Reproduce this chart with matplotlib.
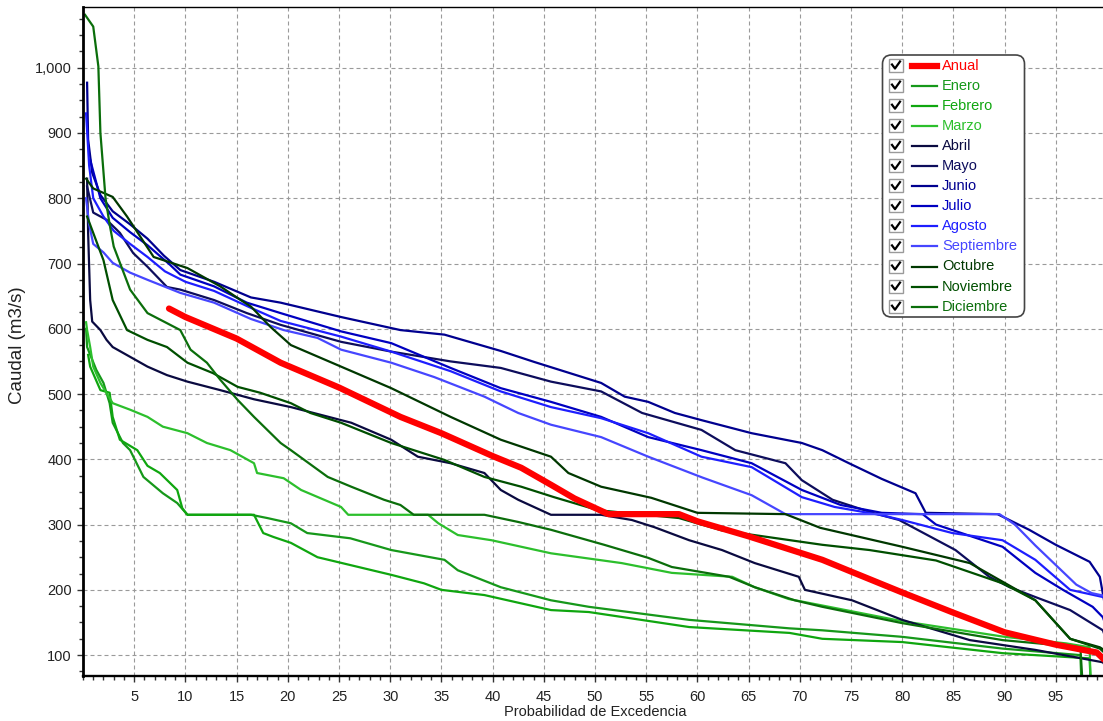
import matplotlib.pyplot as plt
from matplotlib.ticker import MultipleLocator, FuncFormatter
from matplotlib.patches import FancyBboxPatch, Rectangle
from matplotlib.lines import Line2D
from matplotlib.transforms import Affine2D

plt.rcParams['font.family'] = ['Liberation Sans', 'DejaVu Sans']

# data (x = exceedance %, y = m3/s)

anual_x = [8.4, 10, 15, 19.3, 25, 31, 35, 40, 42.8, 45.7, 48, 51.3, 58.2, 60, 65, 72.2, 75, 80, 85, 90, 95, 99, 99.6, 100]
anual_y = [631, 618, 585, 548, 510, 465, 440, 405, 387, 361, 340, 316, 316, 305, 282, 246, 228, 196, 165, 135, 116, 104, 95, 88]

enero_x = [0.3, 0.4, 1.3, 2.0, 2.6, 2.9, 3.9, 4.6, 5.9, 7.8, 9.2, 10.2, 16.4, 18.0, 20.3, 21.9, 26.1, 30.1, 35.3,
           36.6, 40.8, 45.7, 49.4, 59.2, 69.0, 72.2, 80.0, 89.8, 97.4, 97.5]
enero_y = [600, 572, 537, 517, 486, 456, 425, 414, 373, 348, 333, 315, 315, 310, 302, 287, 279, 261, 246,
           230, 204, 184, 174, 154, 141, 138, 128, 110, 100, 60]

febrero_x = [0.5, 0.7, 1.7, 2.6, 2.9, 3.6, 5.3, 6.3, 7.5, 9.2, 9.7, 10.2, 16.7, 17.6, 18.6, 20.3, 22.9, 26.1,
             30.1, 33.3, 35.0, 39.2, 45.7, 49.4, 59.2, 69.0, 72.2, 80.0, 89.8, 98.3, 98.4]
febrero_y = [560, 542, 506, 502, 465, 430, 414, 390, 379, 353, 325, 315, 315, 287, 281, 272, 250, 238,
             223, 210, 200, 192, 169, 166, 143, 134, 125, 120, 103, 95, 60]

marzo_x = [0.3, 0.4, 0.7, 1.0, 1.7, 2.9, 4.6, 6.3, 7.8, 10.2, 12.1, 14.4, 16.7, 17.0, 19.6, 21.3, 25.2, 25.9,
           33.7, 34.7, 36.6, 39.9, 45.7, 52.6, 57.5, 63.4, 65.6, 68.9, 72.2, 80.0, 90.0, 96.0, 98.3, 98.4]
marzo_y = [610, 598, 572, 542, 517, 486, 476, 465, 450, 440, 425, 414, 394, 379, 371, 353, 327, 315,
           315, 302, 284, 276, 256, 241, 226, 220, 204, 186, 176, 152, 128, 118, 112, 60]

abril_x = [0.4, 0.5, 0.7, 0.9, 1.7, 2.3, 2.9, 4.6, 6.3, 8.2, 10.2, 13.4, 16.7, 20.3, 26.2, 30.1, 32.7, 35.9,
           39.2, 40.8, 42.5, 45.7, 50.6, 53.6, 55.8, 59.2, 62.4, 65.6, 69.9, 70.5, 75.1, 80.0, 86.6, 93.0, 99.6, 100]
abril_y = [830, 747, 644, 611, 598, 583, 572, 557, 542, 529, 519, 506, 492, 480, 456, 430, 404, 394,
           379, 353, 338, 315, 315, 307, 296, 276, 261, 241, 220, 200, 184, 154, 123, 108, 89, 80]

mayo_x = [0.4, 1.0, 2.3, 3.6, 4.9, 6.3, 8.2, 9.5, 12.8, 16.0, 19.3, 25.2, 30.1, 35.9, 40.8, 45.7, 50.6, 54.6,
          60.4, 63.7, 68.6, 70.2, 73.2, 77.1, 79.7, 85.2, 88.5, 90.5, 93.0, 96.4, 99.6, 100]
mayo_y = [818, 778, 767, 747, 716, 695, 664, 660, 644, 624, 606, 580, 565, 550, 540, 519, 504, 471,
          445, 414, 394, 368, 338, 318, 307, 261, 220, 204, 189, 169, 138, 120]

junio_x = [0.4, 0.5, 0.9, 1.7, 2.9, 4.6, 6.3, 7.9, 9.5, 12.8, 16.4, 19.3, 25.2, 31.0, 35.3, 40.8, 44.1, 50.6,
           52.9, 55.2, 57.8, 60.4, 65.3, 70.2, 72.2, 74.8, 78.0, 81.3, 82.3, 89.3, 92.4, 95.0, 98.3, 99.3, 99.7, 100]
junio_y = [977, 890, 839, 805, 780, 760, 738, 712, 690, 672, 648, 640, 618, 598, 591, 566, 549, 517,
           496, 488, 471, 460, 440, 425, 414, 394, 370, 348, 318, 316, 292, 269, 243, 220, 185, 150]

julio_x = [0.7, 1.7, 2.9, 4.6, 6.3, 8.5, 9.5, 12.8, 16.0, 19.3, 25.2, 30.1, 35.9, 40.8, 45.7, 50.6, 55.2, 60.4,
           65.3, 70.2, 74.0, 78.0, 82.0, 83.3, 89.8, 93.0, 95.7, 98.6, 99.6, 100]
julio_y = [859, 800, 770, 748, 728, 698, 683, 665, 640, 624, 596, 578, 540, 509, 488, 465, 434, 414,
           394, 353, 330, 318, 316, 300, 266, 226, 200, 174, 158, 140]

agosto_x = [0.3, 0.6, 1.0, 2.0, 3.0, 4.6, 6.3, 8.0, 10.0, 12.8, 16.4, 19.3, 25.2, 30.1, 35.9, 40.8, 45.7, 50.6,
            55.2, 60.4, 65.3, 70.2, 73.4, 77.8, 80.0, 84.9, 89.8, 93.0, 96.4, 99.6, 100]
agosto_y = [930, 850, 800, 772, 750, 730, 710, 688, 672, 658, 632, 612, 588, 565, 535, 504, 480, 463,
            440, 404, 388, 342, 327, 315, 307, 287, 276, 246, 200, 189, 185]

septiembre_x = [0.3, 0.6, 1.0, 2.0, 2.9, 4.6, 6.3, 7.9, 9.5, 12.8, 16.4, 19.6, 22.9, 25.2, 30.1, 34.3, 39.2,
                42.5, 45.7, 50.6, 55.2, 60.5, 65.3, 68.6, 89.5, 91.0, 93.0, 95.0, 97.0, 98.5, 100]
septiembre_y = [800, 760, 730, 717, 701, 686, 675, 665, 655, 640, 615, 598, 586, 568, 548, 526, 496,
                471, 453, 434, 404, 372, 345, 316, 316, 300, 268, 238, 208, 195, 190]

octubre_x = [0.3, 1.0, 2.9, 4.3, 6.9, 10.2, 13.4, 15.4, 16.4, 18.3, 20.3, 25.2, 30.1, 35.9, 40.8, 45.7, 47.4,
             50.6, 55.5, 60.0, 68.6, 72.0, 80.0, 86.6, 93.0, 96.4, 99.3, 100]
octubre_y = [830, 815, 802, 772, 710, 693, 665, 644, 634, 603, 575, 542, 509, 465, 430, 404, 379,
             358, 341, 318, 316, 295, 266, 241, 184, 125, 112, 105]

noviembre_x = [0.4, 2.0, 2.9, 4.3, 6.3, 8.2, 10.2, 12.7, 15.1, 17.3, 20.3, 22.2, 25.2, 30.1, 35.3, 39.2, 42.8,
               46.0, 50.3, 58.2, 62.4, 72.2, 76.8, 83.3, 89.8, 93.0, 96.4, 99.3, 100]
noviembre_y = [772, 705, 644, 598, 583, 572, 548, 532, 511, 502, 486, 471, 456, 425, 399, 373, 358,
               342, 322, 310, 291, 269, 261, 245, 210, 184, 125, 110, 100]

diciembre_x = [0.2, 1.0, 1.5, 1.7, 2.2, 2.6, 3.0, 4.6, 6.3, 9.5, 10.5, 12.1, 13.4, 15.1, 16.7, 19.3, 20.3, 23.9,
               26.2, 29.4, 31.0, 32.3, 39.2, 42.5, 45.7, 50.9, 55.2, 57.5, 63.1, 65.6, 69.5, 72.2, 80.0, 89.8,
               97.4, 97.6]
diciembre_y = [1081, 1063, 1002, 900, 800, 760, 726, 660, 624, 598, 568, 548, 522, 491, 465, 425, 414, 373,
               358, 338, 330, 315, 315, 304, 292, 269, 249, 235, 220, 204, 184, 174, 149, 123,
               112, 60]

labels = ["Anual", "Enero", "Febrero", "Marzo", "Abril", "Mayo", "Junio", "Julio",
          "Agosto", "Septiembre", "Octubre", "Noviembre", "Diciembre"]
colors = ["#ff0000", "#16981a", "#0fa60f", "#2cbf2c", "#0a0a40", "#0d0d5c", "#00008f", "#0000c0",
          "#1e1eff", "#4646ff", "#003800", "#004f00", "#0b6e0b"]
xs = [anual_x, enero_x, febrero_x, marzo_x, abril_x, mayo_x, junio_x, julio_x,
      agosto_x, septiembre_x, octubre_x, noviembre_x, diciembre_x]
ys = [anual_y, enero_y, febrero_y, marzo_y, abril_y, mayo_y, junio_y, julio_y,
      agosto_y, septiembre_y, octubre_y, noviembre_y, diciembre_y]

W, H = 1103, 721
fig = plt.figure(figsize=(W / 100, H / 100), dpi=100)
ax = fig.add_axes([83 / W, 1 - 676 / H, (1107 - 83) / W, (676 - 7) / H])

# monthly curves first, annual on top
for x, y, c in zip(xs[1:], ys[1:], colors[1:]):
    ax.plot(x, y, color=c, lw=1.6)
ax.plot(anual_x, anual_y, color=colors[0], lw=4.5, solid_capstyle="round")

ax.set_xlim(0, 100)
ax.set_ylim(68, 1093)
ax.set_xticks(range(5, 100, 5))
ax.set_yticks(range(100, 1001, 100))
ax.xaxis.set_minor_locator(MultipleLocator(1))
ax.yaxis.set_minor_locator(MultipleLocator(25))
ax.yaxis.set_major_formatter(FuncFormatter(lambda v, p: f"{v:,.0f}"))
ax.tick_params(which="both", direction="out", color="#333333", width=1)
ax.tick_params(which="major", length=4, labelsize=10.5, labelcolor="#222222")
ax.tick_params(which="minor", length=3)
ax.tick_params(axis="x", which="major", pad=6)
ax.tick_params(axis="y", which="major", pad=4)

ax.set_axisbelow(True)
ax.grid(True, which="major", color="#9a9a9a", lw=0.8, linestyle=(0, (3.6, 2.7)))

ax.spines["left"].set_linewidth(2.0)
ax.spines["bottom"].set_linewidth(1.7)
ax.spines["top"].set_linewidth(1.0)
ax.spines["right"].set_visible(False)

ax.set_xlabel("Probabilidad de Excedencia", fontsize=10.5, color="#222222", labelpad=1)

# pixel transform (y measured from top)
pxt = Affine2D().scale(0.01, -0.01).translate(0, H * 0.01) + fig.dpi_scale_trans

fig.text(18, 345, "Caudal (m3/s)", transform=pxt, rotation=90, ha="center", va="center",
         fontsize=13.5, color="#222222")

# legend with check boxes
box = FancyBboxPatch((882.5, 55), 142, 262, boxstyle="round,pad=0,rounding_size=9",
                     transform=pxt, facecolor="white", edgecolor="#444444", lw=1.2, zorder=5)
fig.add_artist(box)
for i, (lab, c) in enumerate(zip(labels, colors)):
    yc = 65.5 + 20.1 * i
    fig.add_artist(Rectangle((889, yc - 7), 14, 13, transform=pxt, facecolor="white",
                             edgecolor="#9a9a9a", lw=1, zorder=6))
    fig.add_artist(Line2D([892, 895, 900], [yc - 1, yc + 3, yc - 4], transform=pxt,
                          color="black", lw=1.6, zorder=7))
    fig.add_artist(Line2D([912, 937], [yc, yc], transform=pxt, color=c,
                          lw=4.5 if i == 0 else 1.6, zorder=7))
    fig.text(942, yc, lab, transform=pxt, ha="left", va="center", fontsize=10.5, color=c, zorder=7)

fig.savefig("out.png", dpi=100)
